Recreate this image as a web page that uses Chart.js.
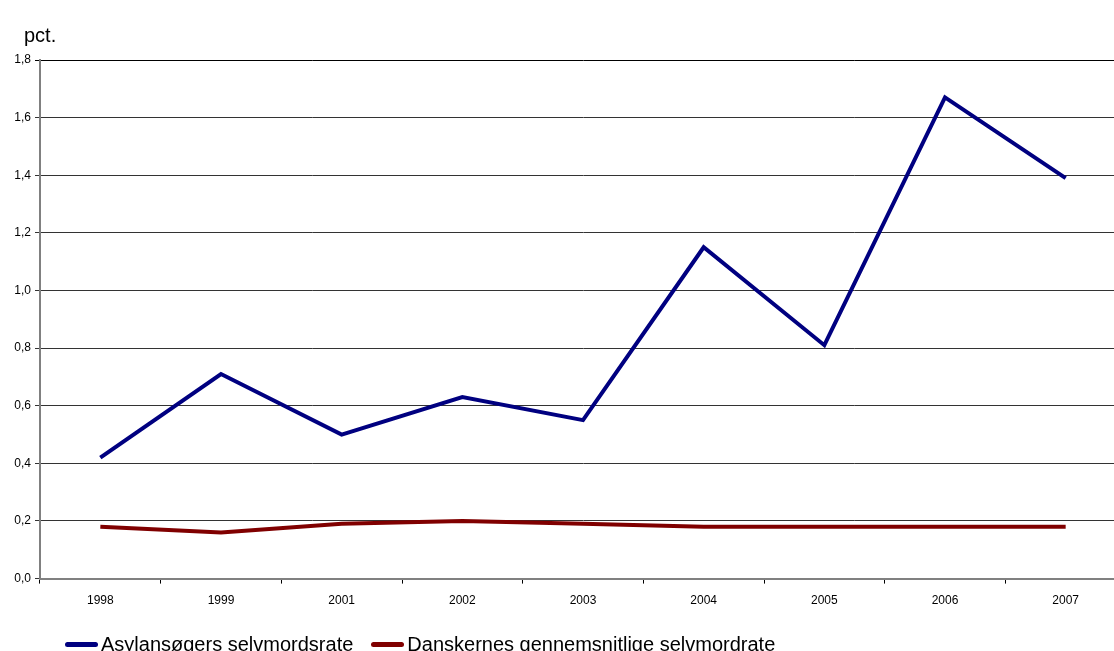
<!DOCTYPE html>
<html lang="da">
<head>
<meta charset="UTF-8">
<title>Selvmordsrate</title>
<script src="https://cdn.jsdelivr.net/npm/chart.js@4.4.1/dist/chart.umd.min.js"></script>
<style>
  html, body { margin: 0; padding: 0; background: #fff; overflow: hidden; }
  body { font-family: Arial, "Liberation Sans", sans-serif; color: #000; }
  #wrap { position: absolute; left: 0; top: 0; width: 1130px; height: 651px; }
  #unit { position: absolute; left: 24px; top: 25px; font-size: 20px; line-height: 20px; }
  #legend { position: absolute; left: 65px; top: 634px; font-size: 20px; line-height: 20px; white-space: nowrap; }
  #legend .item { display: inline-block; margin-right: 18px; }
  #legend .swatch { display: inline-block; width: 33px; height: 5px; border-radius: 3px; vertical-align: middle; margin-right: 3px; position: relative; top: -1px; }
</style>
</head>
<body>
<div id="wrap"><canvas id="chart"></canvas></div>
<div id="unit">pct.</div>
<div id="legend"></div>
<script>
const years = ['1998', '1999', '2001', '2002', '2003', '2004', '2005', '2006', '2007'];
const asylum = [0.42, 0.71, 0.50, 0.63, 0.55, 1.15, 0.81, 1.67, 1.39];
const danes = [0.18, 0.16, 0.19, 0.20, 0.19, 0.18, 0.18, 0.18, 0.18];
const seriesNames = ['Asylansøgers selvmordsrate', 'Danskernes gennemsnitlige selvmordrate'];
const seriesColors = ['#000080', '#800000'];

const font = 'Arial, "Liberation Sans", sans-serif';

const chart = new Chart(document.getElementById('chart'), {
    type: 'line',
    data: {
        labels: years,
        datasets: [{
            label: seriesNames[0],
            data: asylum,
            borderColor: seriesColors[0],
            backgroundColor: seriesColors[0],
            borderWidth: 4,
            pointRadius: 0,
            tension: 0
        }, {
            label: seriesNames[1],
            data: danes,
            borderColor: seriesColors[1],
            backgroundColor: seriesColors[1],
            borderWidth: 4,
            pointRadius: 0,
            tension: 0
        }]
    },
    options: {
        responsive: true,
        maintainAspectRatio: false,
        animation: false,
        layout: { padding: { left: 0, right: 4, top: 60, bottom: 33 } },
        plugins: {
            legend: { display: false },
            tooltip: { enabled: false }
        },
        scales: {
            x: {
                offset: true,
                grid: {
                    offset: true,
                    drawOnChartArea: false,
                    drawTicks: true,
                    tickLength: 5,
                    color: '#000'
                },
                border: { color: '#808080', width: 2 },
                ticks: {
                    color: '#000',
                    font: { family: font, size: 12 },
                    padding: 10,
                    maxRotation: 0
                }
            },
            y: {
                min: 0,
                max: 1.8,
                afterFit: (axis) => { axis.width = 40; },
                grid: {
                    color: (ctx) => ctx.index === 9 ? '#000' : '#333',
                    tickLength: 5,
                    lineWidth: 1
                },
                border: { color: '#808080', width: 2 },
                ticks: {
                    stepSize: 0.2,
                    color: '#000',
                    font: { family: font, size: 12 },
                    padding: 4,
                    callback: (v) => v.toFixed(1).replace('.', ',')
                }
            }
        }
    }
});

// legend as plain text below the chart
const legend = document.getElementById('legend');
chart.data.datasets.forEach((ds) => {
    const item = document.createElement('span');
    item.className = 'item';
    const sw = document.createElement('span');
    sw.className = 'swatch';
    sw.style.background = ds.borderColor;
    item.appendChild(sw);
    item.appendChild(document.createTextNode(ds.label));
    legend.appendChild(item);
});
</script>
</body>
</html>
